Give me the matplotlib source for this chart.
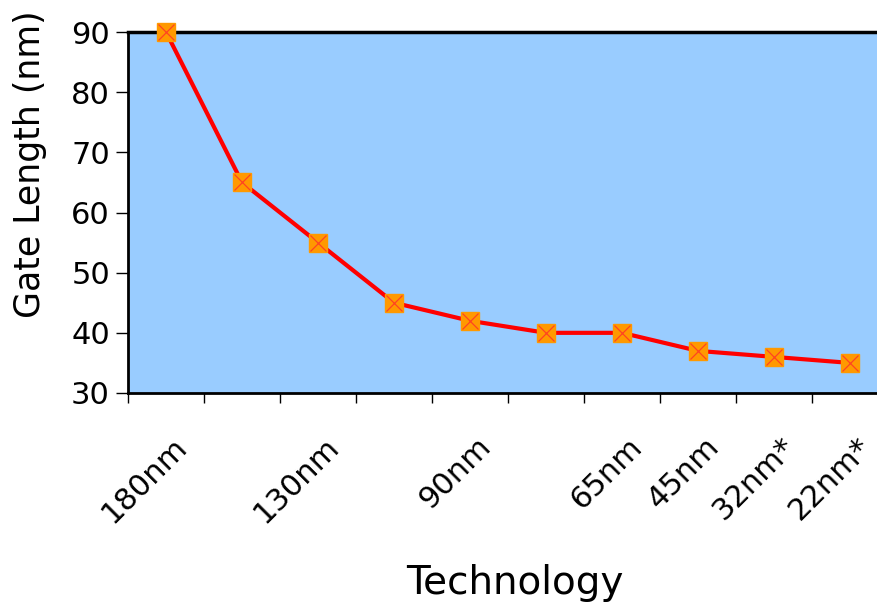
import matplotlib.pyplot as plt
import matplotlib.transforms as mtransforms
import numpy as np

categories = ["180nm", "", "130nm", "", "90nm", "", "65nm", "45nm", "32nm*", "22nm*"]
gate_length = [90, 65, 55, 45, 42, 40, 40, 37, 36, 35]
y_ticks = [30, 40, 50, 60, 70, 80, 90]

plt.rcParams['font.family'] = ['DejaVu Sans']

fig = plt.figure(figsize=(8.78, 6.13), dpi=100)
# right edge runs off the canvas like in the original
ax = fig.add_axes([128 / 878, 1 - 393 / 613, 760 / 878, 361 / 613])
ax.set_facecolor('#99CCFF')

x = np.arange(len(gate_length))
ax.plot(x, gate_length, color='#FF0000', lw=3, zorder=3, clip_on=False)
ax.plot(x, gate_length, ls='none', marker='s', ms=13, mfc='#FF9900',
        mec='#FF9900', zorder=4, clip_on=False)
ax.plot(x, gate_length, ls='none', marker='x', ms=12, mec='#FF4422',
        mew=0.9, zorder=5, clip_on=False)

ax.set_xlim(-0.5, len(gate_length) - 0.5)
ax.set_ylim(30, 90)
ax.set_yticks(y_ticks)
ax.tick_params(axis='y', labelsize=22, length=9, width=1, pad=4, direction='out')

ax.set_xticks(x)
ax.set_xticklabels(categories, rotation=45, ha='right', va='top',
                   rotation_mode='anchor', fontsize=22)
ax.set_xticks(np.arange(len(gate_length) + 1) - 0.5, minor=True)
ax.tick_params(axis='x', which='major', length=0, pad=28)
ax.tick_params(axis='x', which='minor', length=7, width=1, direction='out')
shift = mtransforms.ScaledTranslation(6 / 100, 0, fig.dpi_scale_trans)
for lab in ax.get_xticklabels():
    lab.set_transform(lab.get_transform() + shift)

for side in ['top', 'left', 'bottom']:
    ax.spines[side].set_linewidth(2)
    ax.spines[side].set_color('black')
ax.spines['top'].set_linewidth(2.5)
ax.spines['right'].set_visible(False)

ax.set_ylabel("Gate Length (nm)", fontsize=25)
ax.yaxis.set_label_coords((40 - 128) / 760, (393 - 164) / 361)
ax.yaxis.label.set_va('baseline')
ax.set_xlabel("Technology", fontsize=28)
ax.xaxis.set_label_coords((515 - 128) / 760, (393 - 594) / 361)
ax.xaxis.label.set_va('baseline')

fig.savefig("out.png", dpi=100)
